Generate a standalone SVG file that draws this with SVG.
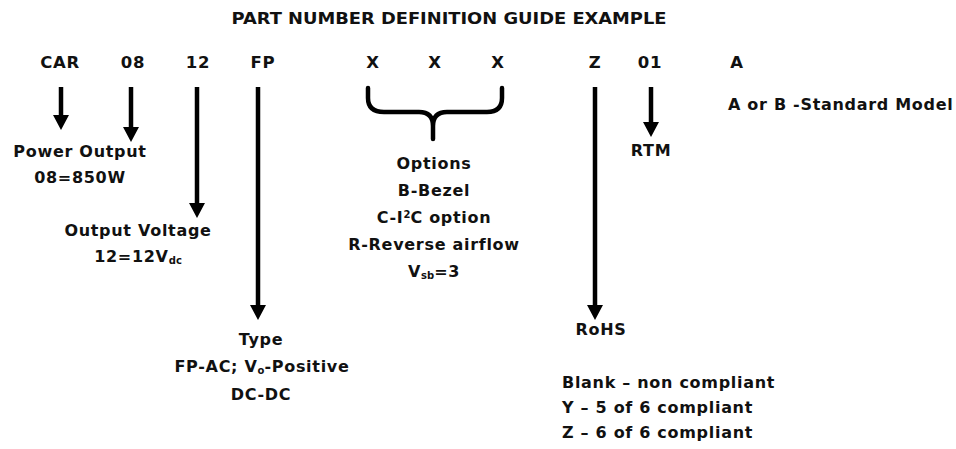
<svg xmlns="http://www.w3.org/2000/svg" width="956" height="449" viewBox="0 0 956 449">
<defs>
<style>
text{font-family:"DejaVu Sans","Liberation Sans",sans-serif;font-weight:700;fill:#111;font-size:16px;letter-spacing:0.7px}
.c{text-anchor:middle}
.code{font-size:16.5px}
.sub{font-size:10px;letter-spacing:0}
.ln{stroke:#000;stroke-width:4.5;fill:none}
.br{stroke:#000;stroke-width:4.5;fill:none;stroke-linecap:round;stroke-linejoin:round}
</style>
<marker id="ah" markerUnits="userSpaceOnUse" markerWidth="17" markerHeight="17" refX="2" refY="8" orient="auto" viewBox="0 0 17 16">
<path d="M0,0 L15,8 L0,16 z" fill="#000"/>
</marker>
</defs>
<rect width="956" height="449" fill="#fff"/>
<text id="title" class="c" x="449" y="24" font-size="15" style="letter-spacing:0" textLength="435" lengthAdjust="spacingAndGlyphs">PART NUMBER DEFINITION GUIDE EXAMPLE</text>

<g id="codes">
<text class="c code" x="60" y="68">CAR</text>
<text class="c code" x="133" y="68">08</text>
<text class="c code" x="198" y="68">12</text>
<text class="c code" x="263" y="68">FP</text>
<text class="c code" x="373" y="68">X</text>
<text class="c code" x="435" y="68">X</text>
<text class="c code" x="498" y="68">X</text>
<text class="c code" x="595" y="68">Z</text>
<text class="c code" x="650" y="68">01</text>
<text class="c code" x="737" y="68">A</text>
</g>

<g id="connectors">
<line class="ln" x1="61" y1="87" x2="61" y2="117" marker-end="url(#ah)"/>
<line class="ln" x1="131" y1="87" x2="131" y2="129" marker-end="url(#ah)"/>
<line class="ln" x1="197" y1="87" x2="197" y2="205" marker-end="url(#ah)"/>
<line class="ln" x1="258" y1="87" x2="258" y2="307" marker-end="url(#ah)"/>
<line class="ln" x1="595" y1="87" x2="595" y2="307" marker-end="url(#ah)"/>
<line class="ln" x1="651" y1="87" x2="651" y2="124" marker-end="url(#ah)"/>
<path class="br" d="M368,88 L368,98 Q368,112 384,112 L419,112 Q433,112 433,126 L433,139 M433,126 Q433,112 447,112 L487,112 Q502,112 502,98 L502,88"/>
</g>

<g id="power-output">
<text class="c" x="80" y="157">Power Output</text>
<text class="c" x="80" y="183">08=850W</text>
</g>
<g id="output-voltage">
<text class="c" x="138" y="236">Output Voltage</text>
<text class="c" x="138" y="262">12=12V<tspan class="sub" dy="2">dc</tspan></text>
</g>
<g id="type">
<text class="c" x="261" y="345">Type</text>
<text class="c" x="262" y="372">FP-AC; V<tspan class="sub" dy="2">o</tspan><tspan dy="-2">-Positive</tspan></text>
<text class="c" x="261" y="400">DC-DC</text>
</g>
<g id="options">
<text class="c" x="434" y="169">Options</text>
<text class="c" x="434" y="196">B-Bezel</text>
<text class="c" x="434" y="223">C-I<tspan class="sub" dy="-5">2</tspan><tspan dy="5">C option</tspan></text>
<text class="c" x="434" y="250">R-Reverse airflow</text>
<text class="c" x="434" y="277">V<tspan class="sub" dy="2">sb</tspan><tspan dy="-2">=3</tspan></text>
</g>
<g id="rohs">
<text class="c" x="601" y="335">RoHS</text>
<text x="562" y="388">Blank – non compliant</text>
<text x="562" y="413">Y – 5 of 6 compliant</text>
<text x="562" y="438">Z – 6 of 6 compliant</text>
</g>
<g id="rtm">
<text class="c" x="651" y="156">RTM</text>
</g>
<g id="model">
<text x="728" y="110">A or B -Standard Model</text>
</g>
</svg>
